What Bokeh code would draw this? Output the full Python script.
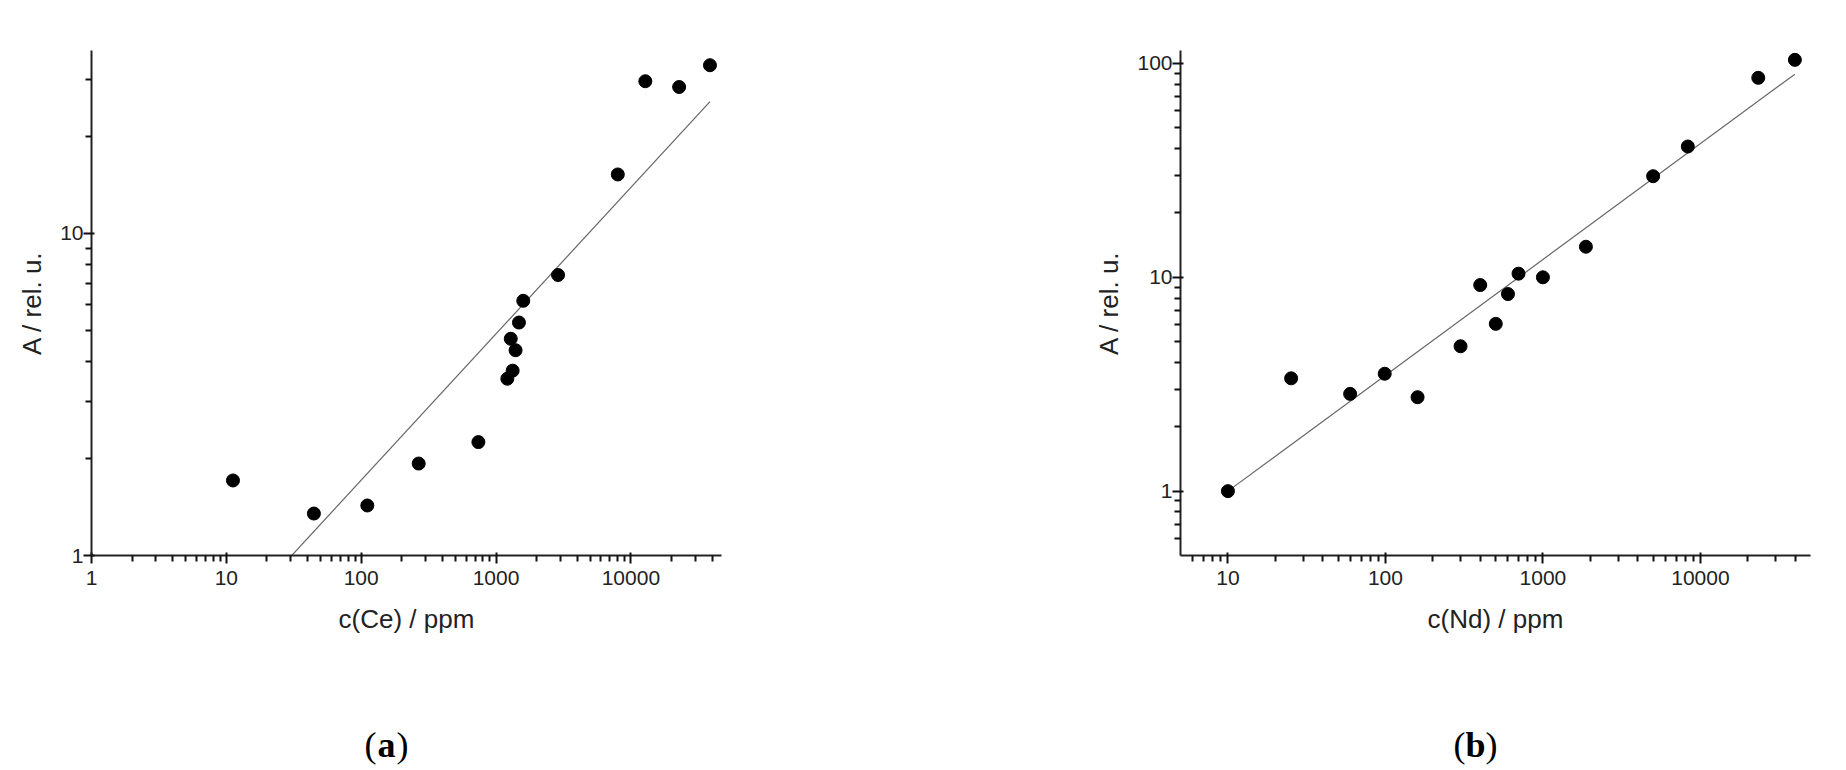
import numpy as np
from bokeh.plotting import figure
from bokeh.layouts import row, column
from bokeh.models import FixedTicker, NumeralTickFormatter, Range1d
from bokeh.core.properties import value
from bokeh.embed import file_html
from bokeh.resources import INLINE

# ---------------- data ----------------
ce_conc = [11.2, 44.6, 111, 267, 740, 1213, 1328, 1286, 1396, 1479, 1592, 2884, 8000, 12800, 22800, 38600]
ce_signal = [1.71, 1.35, 1.43, 1.93, 2.25, 3.54, 3.75, 4.71, 4.34, 5.29, 6.18, 7.43, 15.25, 29.7, 28.5, 33.3]
ce_fit_intercept = -0.675   # log10(A) = intercept + slope*log10(c)
ce_fit_slope = 0.4545

nd_conc = [10, 25.2, 59.7, 99, 160, 300, 400, 502, 600, 700, 1000, 1875, 5010, 8320, 23300, 39800]
nd_signal = [1.0, 3.37, 2.85, 3.54, 2.75, 4.76, 9.2, 6.06, 8.35, 10.4, 10.0, 13.9, 29.7, 40.9, 85.7, 104]
nd_fit_intercept = -0.5417
nd_fit_slope = 0.5417

ce_x_major = [1, 10, 100, 1000, 10000]
ce_y_major = [1, 10]
nd_x_major = [10, 100, 1000, 10000]
nd_y_major = [1, 10, 100]

ce_xlabel = "c(Ce) / ppm"
nd_xlabel = "c(Nd) / ppm"
ylabel = "A / rel. u."
panel_letters = ["a", "b"]

FONT = "Liberation Sans"
TXT = "#222222"
MAIN_H = 660
LAB_H = 110


def minors(lo, hi):
    out = []
    for k in range(-2, 6):
        for m in range(2, 10):
            v = m * 10.0 ** k
            if lo < v < hi:
                out.append(v)
    return out


def panel(xs, ys, a, b, xr, yr, xmaj, ymaj, xlabel, width, border_left, border_right):
    p = figure(width=width, height=MAIN_H, x_axis_type="log", y_axis_type="log",
               x_range=Range1d(*xr), y_range=Range1d(*yr),
               output_backend="svg", toolbar_location=None,
               min_border_left=border_left, min_border_right=border_right,
               min_border_top=50, min_border_bottom=MAIN_H - 50 - 505)
    p.outline_line_color = None
    p.xgrid.visible = False
    p.ygrid.visible = False

    p.xaxis.ticker = FixedTicker(ticks=xmaj, minor_ticks=minors(*xr))
    p.yaxis.ticker = FixedTicker(ticks=ymaj, minor_ticks=minors(*yr))
    for ax in (p.xaxis[0], p.yaxis[0]):
        ax.formatter = NumeralTickFormatter(format="0")
        ax.axis_line_color = "#222222"
        ax.axis_line_width = 2
        ax.major_tick_line_color = "#111111"
        ax.minor_tick_line_color = "#111111"
        ax.major_tick_line_width = 2
        ax.minor_tick_line_width = 2
        ax.major_tick_out = 8
        ax.major_tick_in = 3
        ax.minor_tick_out = 6
        ax.minor_tick_in = 0
        ax.major_label_text_font = FONT
        ax.major_label_text_font_size = "21px"
        ax.major_label_text_color = TXT
        ax.axis_label_text_font = FONT
        ax.axis_label_text_font_size = "26px"
        ax.axis_label_text_font_style = "normal"
        ax.axis_label_text_color = TXT
    p.xaxis.axis_label = xlabel
    p.yaxis.axis_label = ylabel
    p.xaxis.major_label_standoff = 7
    p.xaxis.axis_label_standoff = 16
    p.yaxis.major_label_standoff = 0
    p.yaxis.axis_label_standoff = 10

    # fitted calibration line
    lx = np.array([min(xs), max(xs)], dtype=float)
    ly = 10 ** (a + b * np.log10(lx))
    p.line(lx, ly, line_color="#666666", line_width=1.2)
    p.scatter(xs, ys, size=13, fill_color="black", line_color="black")
    return p


def letter_fig(width, cx, letter):
    q = figure(width=width, height=LAB_H, x_range=Range1d(0, width), y_range=Range1d(0, LAB_H),
               output_backend="svg", toolbar_location=None,
               x_axis_location=None, y_axis_location=None,
               min_border_left=0, min_border_right=0, min_border_top=0, min_border_bottom=0)
    q.outline_line_color = None
    q.xgrid.visible = False
    q.ygrid.visible = False
    cy = LAB_H - 84
    serif = value("Liberation Serif")
    fs = "36px"
    q.text(x=[cx - 10], y=[cy], text=["("], text_font=serif, text_font_size=fs,
           text_align="right", text_baseline="middle", text_color="black")
    q.text(x=[cx], y=[cy], text=[letter], text_font=serif, text_font_size=fs,
           text_font_style="bold", text_align="center", text_baseline="middle", text_color="black")
    q.text(x=[cx + 10], y=[cy], text=[")"], text_font=serif, text_font_size=fs,
           text_align="left", text_baseline="middle", text_color="black")
    return q


W1, W2 = 800, 1040
p1 = panel(ce_conc, ce_signal, ce_fit_intercept, ce_fit_slope, (1, 47000), (1, 37),
           ce_x_major, ce_y_major, ce_xlabel, W1, 91, W1 - 91 - 630)
p2 = panel(nd_conc, nd_signal, nd_fit_intercept, nd_fit_slope, (5, 50000), (0.5, 115),
           nd_x_major, nd_y_major, nd_xlabel, W2, 380, W2 - 380 - 630)
l1 = letter_fig(W1, 386, panel_letters[0])
l2 = letter_fig(W2, 1475 - W1, panel_letters[1])

layout = column(row(p1, p2), row(l1, l2))
open("out.html", "w").write(file_html(layout, INLINE))
